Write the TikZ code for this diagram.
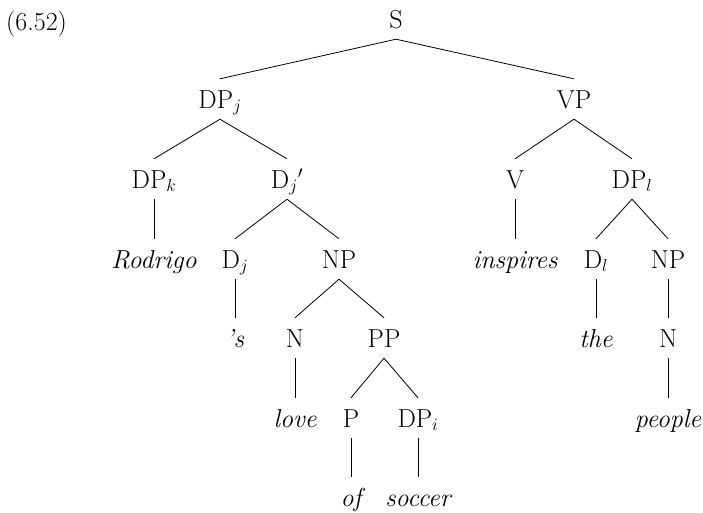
\documentclass[tikz,border=0pt]{standalone}
\begin{document}
\begin{tikzpicture}[x=1pt,y=-1pt,
  lbl/.style={anchor=base, inner sep=0pt, text height=29pt, text depth=11pt,
    font=\fontsize{26}{31}\selectfont},
  edge/.style={line width=0.8pt}]
\useasboundingbox (0,0) rectangle (703,512);
% example number
\node[anchor=base west, inner sep=0pt, font=\fontsize{26}{31}\selectfont] (num) at (6,30) {(6.52)};
% level 1
\node[lbl] (S) at (396,28) {S};
% level 2
\node[lbl] (DPj) at (220,108) {DP$_j$};
\node[lbl] (VP) at (574,108) {VP};
% level 3
\node[lbl] (DPk) at (154,188) {DP$_k$};
\node[lbl] (Djbar) at (287,188) {D$_j{}'$};
\node[lbl] (V) at (515,188) {V};
\node[lbl] (DPl) at (632,188) {DP$_l$};
% level 4
\node[lbl] (rod) at (154,268) {\itshape Rodrigo};
\node[lbl] (Dj) at (235,268) {D$_j$};
\node[lbl] (NP1) at (339,268) {NP};
\node[lbl] (insp) at (515,268) {\itshape inspires};
\node[lbl] (Dl) at (596,268) {D$_l$};
\node[lbl] (NP2) at (668,268) {NP};
% level 5
\node[lbl] (poss) at (235,347) {\itshape 's};
\node[lbl] (N1) at (295,347) {N};
\node[lbl] (PP) at (384,347) {PP};
\node[lbl] (the) at (596,347) {\itshape the};
\node[lbl] (N2) at (668,347) {N};
% level 6
\node[lbl] (love) at (295,427) {\itshape love};
\node[lbl] (P) at (351,427) {P};
\node[lbl] (DPi) at (418,427) {DP$_i$};
\node[lbl] (people) at (668,427) {\itshape people};
% level 7
\node[lbl] (of) at (351,506) {\itshape of};
\node[lbl] (soccer) at (418,506) {\itshape soccer};
% branches
\foreach \p/\c in {S/DPj, S/VP, DPj/DPk, DPj/Djbar, VP/V, VP/DPl,
  DPk/rod, Djbar/Dj, Djbar/NP1, V/insp, DPl/Dl, DPl/NP2,
  Dj/poss, NP1/N1, NP1/PP, Dl/the, NP2/N2,
  N1/love, PP/P, PP/DPi, N2/people, P/of, DPi/soccer}
  \draw[edge] (\p.south) -- (\c.north);
\end{tikzpicture}
\end{document}
